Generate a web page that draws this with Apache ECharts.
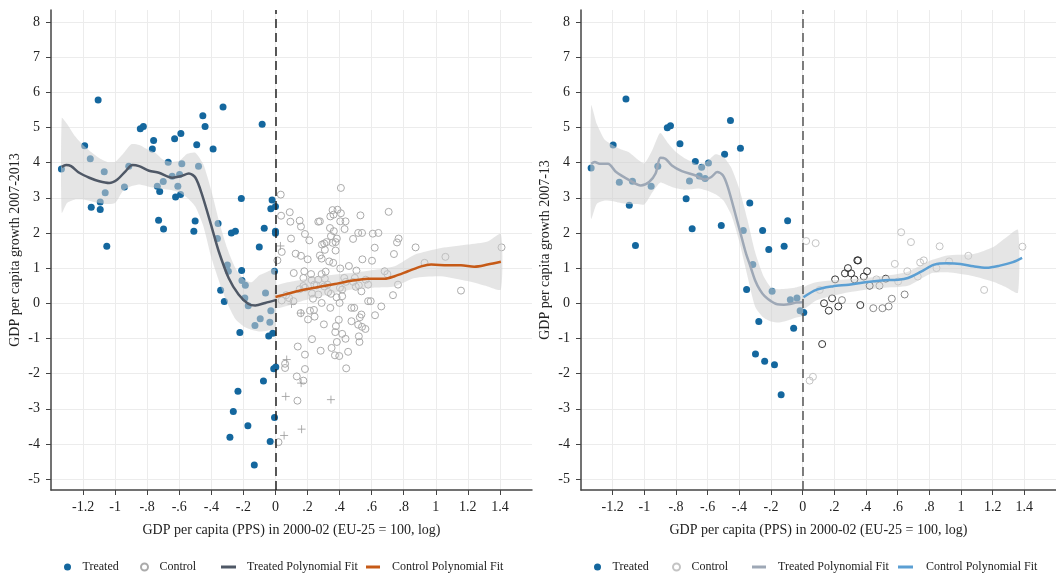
<!DOCTYPE html>
<html>
<head>
<meta charset="utf-8">
<script src="https://cdn.jsdelivr.net/npm/echarts@6/dist/echarts.min.js"></script>
<style>
  html, body { margin: 0; padding: 0; background: #fff; }
  #chart { width: 1056px; height: 576px; }
</style>
</head>
<body>
<div id="chart"></div>
<script>
// tick values
const xTicks = [-1.2, -1, -0.8, -0.6, -0.4, -0.2, 0, 0.2, 0.4, 0.6, 0.8, 1, 1.2, 1.4]
const yTicks = [-5, -4, -3, -2, -1, 0, 1, 2, 3, 4, 5, 6, 7, 8]

// left panel: 2007-2013
const leftTreated = [
  [-1.335, 3.82], [-1.19, 4.48], [-1.155, 4.11], [-1.106, 5.78], [-1.149, 2.73], [-1.093, 2.67],
  [-1.093, 2.88], [-1.068, 3.74], [-1.062, 3.14], [-1.052, 1.62], [-0.942, 3.31], [-0.915, 3.90],
  [-0.843, 4.96], [-0.824, 5.03], [-0.768, 4.39], [-0.760, 4.63], [-0.737, 3.33], [-0.722, 3.18],
  [-0.729, 2.36], [-0.698, 2.11], [-0.700, 3.46], [-0.669, 4.01], [-0.629, 4.68], [-0.623, 3.02],
  [-0.644, 3.61], [-0.609, 3.33], [-0.598, 3.66], [-0.592, 3.09], [-0.590, 4.83], [-0.584, 3.97],
  [-0.491, 4.51], [-0.453, 5.33], [-0.439, 5.03], [-0.480, 3.90], [-0.501, 2.34], [-0.509, 2.05],
  [-0.389, 4.39], [-0.327, 5.58], [-0.358, 2.27], [-0.362, 1.84], [-0.275, 2.00], [-0.250, 2.05],
  [-0.213, 2.98], [-0.083, 5.09], [-0.101, 1.60], [-0.070, 2.13], [-0.029, 2.69], [-0.021, 2.94],
  [0.0, 2.75], [0.0, 1.99], [0.0, 2.05], [-0.30, 1.09], [-0.294, 0.91], [-0.211, 0.93],
  [-0.209, 0.65], [-0.188, 0.51], [-0.342, 0.37], [-0.319, 0.05], [-0.191, 0.15], [-0.170, -0.07],
  [-0.062, 0.29], [-0.006, 0.91], [-0.029, -0.21], [-0.095, -0.44], [-0.128, -0.63], [-0.035, -0.54],
  [-0.017, -0.85], [-0.042, -0.93], [-0.222, -0.83], [0.002, -1.81], [-0.011, -1.86], [-0.075, -2.21],
  [-0.234, -2.50], [-0.263, -3.08], [-0.172, -3.48], [-0.284, -3.81], [-0.006, -3.25], [-0.033, -3.93],
  [-0.132, -4.60]
]
const leftControl = [
  [0.033, 3.09], [0.408, 3.28], [0.035, 2.49], [0.089, 2.59], [0.093, 2.32], [0.151, 2.35], [0.159, 2.18],
  [0.184, 1.97], [0.211, 1.79], [0.097, 1.84], [0.039, 1.46], [0.012, 1.22], [0.126, 1.41], [0.159, 1.35],
  [0.201, 1.25], [0.114, 0.86], [0.180, 0.91], [0.222, 0.83], [0.277, 2.33], [0.267, 2.32], [0.342, 2.47],
  [0.356, 2.65], [0.387, 2.66], [0.362, 2.52], [0.408, 2.56], [0.404, 2.33], [0.437, 2.33], [0.431, 2.11],
  [0.340, 2.14], [0.364, 2.05], [0.346, 1.91], [0.383, 1.84], [0.304, 1.70], [0.290, 1.67], [0.319, 1.74],
  [0.356, 1.72], [0.375, 1.74], [0.308, 1.52], [0.277, 1.36], [0.288, 1.27], [0.335, 1.19], [0.360, 1.15],
  [0.375, 1.50], [0.404, 0.99], [0.458, 1.06], [0.484, 1.83], [0.530, 2.50], [0.516, 2.00], [0.540, 2.00],
  [0.607, 1.98], [0.642, 2.00], [0.619, 1.58], [0.542, 1.25], [0.602, 1.21], [0.505, 0.93], [0.706, 2.60],
  [0.768, 1.84], [0.758, 1.73], [0.739, 1.40], [0.681, 0.91], [0.698, 0.83], [0.874, 1.59], [0.930, 1.15],
  [1.060, 1.32], [1.410, 1.59], [1.157, 0.36], [0.733, 0.23], [0.764, 0.53], [0.660, -0.09], [0.594, 0.06],
  [0.536, -0.32], [0.526, -0.40], [0.621, -0.34], [0.474, -0.51], [0.516, -0.61], [0.540, -0.67],
  [0.561, -0.73], [0.491, -0.13], [0.520, -0.94], [0.524, -1.10], [0.437, -1.01], [0.416, -0.87],
  [0.395, -0.47], [0.377, -0.65], [0.373, -0.82], [0.383, -1.10], [0.350, -1.27], [0.371, -1.48],
  [0.398, -1.50], [0.453, -1.38], [0.441, -1.85], [0.282, -1.35], [0.302, -0.60], [0.228, -1.02],
  [0.203, -0.46], [0.240, -0.19], [0.215, -0.21], [0.157, -0.28], [0.244, -0.38], [0.234, 0.13],
  [0.228, 0.28], [0.184, 0.44], [0.151, 0.40], [0.174, 0.49], [0.226, 0.66], [0.267, 0.67], [0.288, 0.83],
  [0.313, 0.90], [0.308, 0.70], [0.257, 0.51], [0.325, 0.53], [0.304, 0.48], [0.329, 0.32], [0.346, 0.27],
  [0.381, 0.17], [0.416, 0.20], [0.400, 0.01], [0.416, 0.39], [0.439, 0.61], [0.484, 0.61], [0.501, 0.47],
  [0.520, 0.51], [0.536, 0.34], [0.578, 0.53], [0.563, 0.67], [0.495, 0.72], [0.429, 0.72], [0.402, 0.44],
  [0.342, -0.13], [0.288, 0.01], [0.112, 0.06], [0.039, 0.08], [0.139, -1.23], [0.184, -1.46],
  [0.060, -1.72], [0.060, -1.84], [0.184, -1.87], [0.133, -2.08], [0.174, -2.20], [0.137, -2.77],
  [0.019, -3.95], [0.174, 0.72], [0.066, 0.23], [0.085, 0.15], [0.267, 0.25], [0.242, 0.53],
  [0.474, -0.13], [0.578, 0.06]
]
const leftPlus = [
  [0.031, 1.63], [0.07, -1.60], [0.064, -2.65], [0.16, -2.27], [0.163, -3.58], [0.054, -3.76],
  [0.346, -2.74], [0.10, -0.02], [0.16, -0.28]
]
const leftTreatedFit = [
  [-1.333, 3.88], [-1.306, 3.93], [-1.275, 3.90], [-1.224, 3.71], [-1.161, 3.57], [-1.099, 3.47],
  [-1.037, 3.42], [-0.986, 3.52], [-0.934, 3.76], [-0.892, 3.93], [-0.851, 3.90], [-0.789, 3.77],
  [-0.727, 3.71], [-0.644, 3.57], [-0.592, 3.61], [-0.540, 3.69], [-0.499, 3.57], [-0.458, 3.09],
  [-0.396, 2.14], [-0.354, 1.48], [-0.292, 0.72], [-0.230, 0.25], [-0.168, -0.02], [-0.126, -0.06],
  [-0.064, 0.01], [0, 0.09]
]
const leftControlFit = [
  [0, 0.18], [0.05, 0.24], [0.10, 0.30], [0.163, 0.37], [0.267, 0.46], [0.371, 0.55], [0.474, 0.64],
  [0.578, 0.70], [0.681, 0.70], [0.743, 0.77], [0.826, 0.91], [0.909, 1.05], [0.971, 1.10],
  [1.075, 1.08], [1.157, 1.08], [1.240, 1.04], [1.323, 1.10], [1.406, 1.18]
]
const leftTreatedBandX = [-1.333, -1.30, -1.25, -1.20, -1.15, -1.10, -1.05, -1.00, -0.95, -0.90, -0.85, -0.80, -0.75, -0.70,
  -0.65, -0.60, -0.55, -0.50, -0.45, -0.40, -0.35, -0.30, -0.25, -0.20, -0.15, -0.10, -0.05, 0]
const leftTreatedBandHi = [5.27, 5.1, 4.75, 4.5, 4.3, 4.13, 4.02, 4.02, 4.25, 4.52, 4.5, 4.38, 4.28, 4.08,
  4.02, 4.05, 4.25, 4.28, 3.95, 3.2, 2.3, 1.55, 1.0, 0.7, 0.6, 0.8, 0.9, 0.98]
const leftTreatedBandLo = [2.57, 2.85, 2.95, 2.95, 2.9, 2.85, 2.82, 2.85, 3.2, 3.33, 3.38, 3.33, 3.28, 3.25,
  3.22, 3.15, 3.0, 2.75, 2.2, 1.3, 0.6, 0.0, -0.45, -0.65, -0.75, -0.8, -0.78, -0.72]
const leftControlBandX = [0, 0.163, 0.3, 0.474, 0.62, 0.743, 0.868, 1.033, 1.199, 1.323, 1.406]
const leftControlBandHi = [0.48, 0.67, 0.78, 0.86, 0.95, 1.05, 1.38, 1.57, 1.67, 1.76, 1.97]
const leftControlBandLo = [-0.13, 0.06, 0.22, 0.39, 0.45, 0.48, 0.72, 0.77, 0.63, 0.48, 0.39]

// right panel: 2007-13
const rightTreated = [
  [-1.336, 3.85], [-1.197, 4.50], [-1.158, 3.44], [-1.116, 5.81], [-1.095, 2.79], [-1.075, 3.47],
  [-1.056, 1.64], [-0.957, 3.33], [-0.915, 3.90], [-0.855, 4.99], [-0.835, 5.05], [-0.775, 4.54],
  [-0.736, 2.97], [-0.715, 3.48], [-0.698, 2.12], [-0.678, 4.03], [-0.653, 3.62], [-0.638, 3.87],
  [-0.616, 3.55], [-0.595, 3.99], [-0.514, 2.21], [-0.493, 4.24], [-0.456, 5.20], [-0.393, 4.41],
  [-0.375, 2.07], [-0.334, 2.85], [-0.315, 1.10], [-0.354, 0.39], [-0.253, 2.07], [-0.214, 1.53],
  [-0.193, 0.34], [-0.117, 1.62], [-0.095, 2.35], [-0.078, 0.10], [-0.036, 0.15], [-0.016, -0.21],
  [0.007, -0.26], [-0.277, -0.52], [-0.057, -0.71], [-0.298, -1.44], [-0.240, -1.65], [-0.178, -1.75],
  [-0.136, -2.60]
]
const rightControlLight = [
  [0.022, 1.77], [0.082, 1.71], [0.622, 2.02], [0.684, 1.74], [0.865, 1.62], [0.582, 1.12], [0.661, 0.91],
  [0.742, 1.16], [0.765, 1.22], [0.727, 0.76], [0.925, 1.19], [1.046, 1.35], [1.146, 0.38], [1.388, 1.61],
  [0.845, 1.0], [0.603, 0.62], [0.466, 0.68], [0.108, 0.38], [0.044, -2.20], [0.065, -2.09]
]
const rightControlMid = [
  [0.644, 0.25], [0.563, 0.13], [0.543, -0.09], [0.504, -0.14], [0.446, -0.14], [0.485, 0.50], [0.248, 0.09]
]
const rightControlDark = [
  [0.205, 0.68], [0.267, 0.85], [0.286, 1.00], [0.306, 0.85], [0.327, 0.68], [0.345, 1.22], [0.350, 1.22],
  [0.386, 0.76], [0.407, 0.91], [0.423, 0.50], [0.525, 0.70], [0.186, 0.14], [0.135, 0.00], [0.165, -0.21],
  [0.225, -0.09], [0.364, -0.05], [0.123, -1.16]
]
const rightTreatedFit = [
  [-1.336, 3.97], [-1.313, 4.02], [-1.282, 3.97], [-1.23, 3.97], [-1.178, 3.73], [-1.095, 3.50],
  [-1.022, 3.35], [-0.970, 3.45], [-0.929, 3.69], [-0.898, 4.14], [-0.867, 4.11], [-0.826, 3.92],
  [-0.763, 3.76], [-0.680, 3.64], [-0.618, 3.52], [-0.577, 3.59], [-0.540, 3.73], [-0.504, 3.64],
  [-0.473, 3.31], [-0.42, 2.45], [-0.39, 1.95], [-0.36, 1.45], [-0.33, 1.05], [-0.30, 0.65],
  [-0.27, 0.38], [-0.24, 0.2], [-0.20, 0.06], [-0.16, -0.03], [-0.12, -0.04], [-0.08, -0.02],
  [-0.04, 0.02], [0, 0.03]
]
const rightControlFit = [
  [0.005, 0.17], [0.085, 0.38], [0.188, 0.48], [0.292, 0.53], [0.395, 0.60], [0.499, 0.65], [0.603, 0.67],
  [0.665, 0.72], [0.748, 0.90], [0.831, 1.10], [0.914, 1.14], [0.996, 1.12], [1.079, 1.05], [1.162, 1.01],
  [1.245, 1.07], [1.328, 1.17], [1.386, 1.29]
]
const rightTreatedBandX = [-1.336, -1.30, -1.25, -1.20, -1.15, -1.10, -1.05, -1.00, -0.95, -0.90, -0.85, -0.80, -0.75, -0.70,
  -0.65, -0.60, -0.55, -0.50, -0.45, -0.40, -0.35, -0.30, -0.25, -0.20, -0.15, -0.10, -0.05, 0]
const rightTreatedBandHi = [5.63, 5.1, 4.65, 4.5, 4.38, 4.3, 4.12, 3.98, 4.35, 4.84, 4.55, 4.3, 4.14, 4.02,
  3.93, 4.05, 4.24, 4.16, 3.85, 3.25, 2.4, 1.45, 0.8, 0.45, 0.4, 0.41, 0.44, 0.48]
const rightTreatedBandLo = [2.40, 2.83, 2.92, 2.9, 2.85, 2.82, 2.82, 2.81, 3.15, 3.43, 3.35, 3.27, 3.23, 3.24,
  3.26, 3.2, 3.1, 2.92, 2.5, 1.75, 0.8, -0.1, -0.4, -0.52, -0.55, -0.5, -0.42, -0.35]
const rightControlBandX = [0.005, 0.085, 0.292, 0.5, 0.665, 0.81, 0.914, 1.08, 1.204, 1.287, 1.36]
const rightControlBandHi = [0.44, 0.60, 0.68, 0.77, 0.90, 1.22, 1.36, 1.40, 1.60, 1.88, 2.09]
const rightControlBandLo = [-0.16, 0.08, 0.31, 0.44, 0.50, 0.85, 0.88, 0.77, 0.61, 0.45, 0.30]

const FONT = 'Liberation Serif'
const TREATED = '#14679e'
const BAND = 'rgba(208, 208, 208, 0.55)'
const PLUS = 'path://M0,5L10,5M5,0L5,10'

const chart = echarts.init(document.getElementById('chart'))

function fmtX (v) {
  const s = String(Math.round(v * 10) / 10)
  return s.replace(/^(-?)0\./, '$1.')
}

function xAxisOf (idx, name) {
  return {
    type: 'value',
    gridIndex: idx,
    min: -1.4,
    max: 1.6,
    name: name,
    nameLocation: 'middle',
    nameGap: 33,
    nameTextStyle: { fontFamily: FONT, fontSize: 14, color: '#222' },
    axisLine: { onZero: false, lineStyle: { color: '#444', width: 1.5 } },
    axisTick: { length: 5, lineStyle: { color: '#444' }, customValues: xTicks },
    axisLabel: { fontFamily: FONT, fontSize: 14, color: '#222', margin: 10, customValues: xTicks, formatter: fmtX },
    splitLine: { show: true, lineStyle: { color: '#ececec', width: 1 } }
  }
}

function yAxisOf (idx, name) {
  return {
    type: 'value',
    gridIndex: idx,
    min: -5.31,
    max: 8.34,
    name: name,
    nameLocation: 'middle',
    nameRotate: 90,
    nameGap: 29,
    nameTextStyle: { fontFamily: FONT, fontSize: 14, color: '#222' },
    axisLine: { show: true, onZero: false, lineStyle: { color: '#444', width: 1.5 } },
    axisTick: { show: true, length: 5, lineStyle: { color: '#444' }, customValues: yTicks },
    axisLabel: { fontFamily: FONT, fontSize: 14, color: '#222', margin: 11, customValues: yTicks },
    splitLine: { show: true, lineStyle: { color: '#ececec', width: 1 } }
  }
}

function band (axis, xs, hi, lo) {
  return {
    type: 'custom',
    xAxisIndex: axis,
    yAxisIndex: axis,
    z: 3,
    silent: true,
    clip: true,
    data: [[xs[0], hi[0]]],
    renderItem: function (params, api) {
      const top = xs.map((x, i) => api.coord([x, hi[i]]))
      const bot = xs.map((x, i) => api.coord([x, lo[i]])).reverse()
      return {
        type: 'polygon',
        shape: { points: top.concat(bot), smooth: 0.2 },
        style: { fill: BAND }
      }
    }
  }
}

function dots (name, axis, data, color) {
  return {
    name: name,
    type: 'scatter',
    xAxisIndex: axis,
    yAxisIndex: axis,
    z: 2,
    symbolSize: 7,
    data: data,
    itemStyle: { color: color, opacity: 1 }
  }
}

function rings (name, axis, data, color) {
  return {
    name: name,
    type: 'scatter',
    xAxisIndex: axis,
    yAxisIndex: axis,
    z: 2,
    symbolSize: 7,
    data: data,
    itemStyle: { color: 'rgba(255,255,255,0)', borderColor: color, borderWidth: 1, opacity: 1 }
  }
}

function fit (name, axis, data, color, mark) {
  const s = {
    name: name,
    type: 'line',
    xAxisIndex: axis,
    yAxisIndex: axis,
    z: 4,
    smooth: 0.3,
    symbol: 'none',
    showSymbol: false,
    data: data,
    lineStyle: { color: color, width: 2.5 },
    itemStyle: { color: color }
  }
  if (mark) {
    s.markLine = {
      silent: true,
      symbol: ['none', 'none'],
      label: { show: false },
      lineStyle: { color: mark, width: 1.5, type: [9, 5] },
      data: [{ xAxis: 0 }]
    }
  }
  return s
}

// one legend per entry, so each can sit where the reference has it
function key (name, left, width, height, icon, pad) {
  return {
    left: left,
    top: 556,
    itemWidth: width,
    itemHeight: height,
    icon: icon,
    formatter: n => n.trim(),
    textStyle: { fontFamily: FONT, fontSize: 12, color: '#222', padding: [0, 0, 0, pad] },
    data: [name]
  }
}

const xName = 'GDP per capita (PPS) in 2000-02 (EU-25 = 100, log)'

const option = {
  animation: false,
  backgroundColor: '#fff',
  grid: [
    { left: 51, top: 10, width: 481, height: 480 },
    { left: 581, top: 10, width: 481, height: 480 }
  ],
  xAxis: [xAxisOf(0, xName), xAxisOf(1, xName)],
  yAxis: [yAxisOf(0, 'GDP per capita growth 2007-2013'), yAxisOf(1, 'GDP per capita growth 2007-13')],
  legend: [
    key('Treated', 59, 20, 7, 'circle', 0),
    key('Control', 135, 20, 7, 'circle', 0),
    key('Treated Polynomial Fit', 216, 15, 3, 'rect', 6),
    key('Control Polynomial Fit', 361, 14, 3, 'rect', 7),
    key('Treated ', 589, 20, 7, 'circle', 0),
    key('Control ', 667, 20, 7, 'circle', 0),
    key('Treated Polynomial Fit ', 747, 14, 3, 'rect', 7),
    key('Control Polynomial Fit ', 893, 15, 3, 'rect', 8)
  ],
  series: [
    dots('Treated', 0, leftTreated, TREATED),
    rings('Control', 0, leftControl, '#ababab'),
    {
      name: 'plus',
      type: 'scatter',
      xAxisIndex: 0,
      yAxisIndex: 0,
      z: 2,
      symbol: PLUS,
      symbolSize: 8,
      data: leftPlus,
      itemStyle: { color: 'none', borderColor: '#9a9a9a', borderWidth: 1 }
    },
    band(0, leftTreatedBandX, leftTreatedBandHi, leftTreatedBandLo),
    band(0, leftControlBandX, leftControlBandHi, leftControlBandLo),
    fit('Treated Polynomial Fit', 0, leftTreatedFit, '#4f5866', '#222'),
    fit('Control Polynomial Fit', 0, leftControlFit, '#c65a17'),

    dots('Treated ', 1, rightTreated, TREATED),
    rings('Control ', 1, rightControlLight, '#c4c4c4'),
    rings('control mid', 1, rightControlMid, '#8a8a8a'),
    rings('control dark', 1, rightControlDark, '#333333'),
    band(1, rightTreatedBandX, rightTreatedBandHi, rightTreatedBandLo),
    band(1, rightControlBandX, rightControlBandHi, rightControlBandLo),
    fit('Treated Polynomial Fit ', 1, rightTreatedFit, '#9ea8b6', '#555'),
    fit('Control Polynomial Fit ', 1, rightControlFit, '#5b9fd3')
  ]
}

chart.setOption(option)
</script>
</body>
</html>
